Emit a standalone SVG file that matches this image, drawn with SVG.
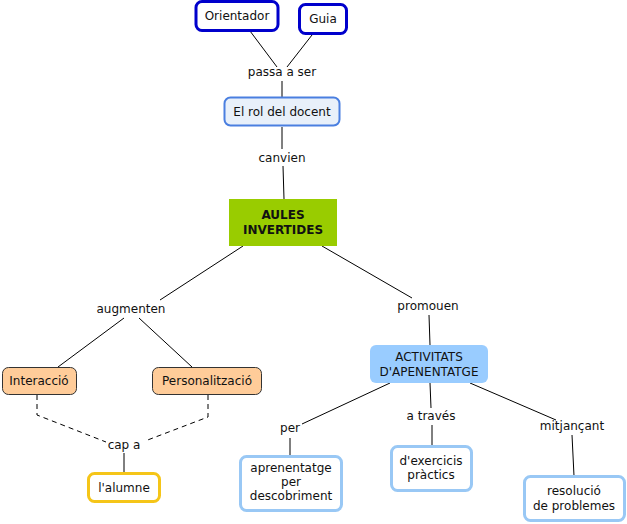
<svg xmlns="http://www.w3.org/2000/svg" width="627" height="524" viewBox="0 0 627 524">
<style>
text{font-family:"DejaVu Sans",Verdana,sans-serif;font-size:12px;fill:#111;text-anchor:middle}
.c{stroke:#000;stroke-width:1;fill:none}
.d{stroke:#000;stroke-width:1;fill:none;stroke-dasharray:5,4}
.top{fill:#fff;stroke:#0000cc;stroke-width:3}
.blue{fill:#fff;stroke:#99c8f5;stroke-width:3}
.peach{fill:#ffcc99;stroke:#333;stroke-width:1}
</style>
<rect width="627" height="524" fill="#fff"/>
<g id="connectors">
<line class="c" x1="250" y1="31" x2="277" y2="67"/>
<line class="c" x1="312" y1="35" x2="287" y2="67"/>
<line class="c" x1="282" y1="81" x2="282" y2="97"/>
<line class="c" x1="282" y1="127" x2="282" y2="149"/>
<line class="c" x1="283" y1="166" x2="284" y2="199"/>
<line class="c" x1="243" y1="246" x2="160" y2="300"/>
<line class="c" x1="322" y1="246" x2="412" y2="298"/>
<line class="c" x1="124" y1="318" x2="58" y2="367"/>
<line class="c" x1="139" y1="318" x2="192" y2="367"/>
<polyline class="d" points="37,395 37,415 106,442"/>
<polyline class="d" points="208,395 208,417 145,441"/>
<line class="c" x1="124" y1="453" x2="124" y2="473"/>
<line class="c" x1="429" y1="315" x2="430" y2="345"/>
<line class="c" x1="390" y1="383" x2="302" y2="424"/>
<line class="c" x1="430" y1="383" x2="431" y2="408"/>
<line class="c" x1="470" y1="383" x2="556" y2="420"/>
<line class="c" x1="290" y1="438" x2="290" y2="455"/>
<line class="c" x1="432" y1="425" x2="432" y2="446"/>
<line class="c" x1="572" y1="435" x2="574" y2="476"/>
<text x="282" y="76">passa a ser</text>
<text x="282" y="162">canvien</text>
<text x="131" y="313">augmenten</text>
<text x="428" y="310">promouen</text>
<text x="124" y="449">cap a</text>
<text x="290" y="432">per</text>
<text x="431" y="420">a través</text>
<text x="572" y="430">mitjançant</text>
</g>
<g id="orientador"><rect class="top" x="196" y="1.5" width="82" height="29" rx="6"/><text x="237" y="20">Orientador</text></g>
<g id="guia"><rect class="top" x="299.5" y="4.5" width="47" height="29" rx="6"/><text x="323" y="23">Guia</text></g>
<g id="rol"><rect x="224.5" y="97.5" width="115" height="28" rx="6" fill="#e8f0fa" stroke="#4a7fe0" stroke-width="2"/><text x="282" y="116">El rol del docent</text></g>
<g id="aules"><rect x="229" y="199" width="108" height="47" fill="#99cc00"/><text x="283" y="219" font-weight="bold" font-size="13">AULES</text><text x="283" y="234" font-weight="bold" font-size="13">INVERTIDES</text></g>
<g id="interaccio"><rect class="peach" x="2.5" y="367.5" width="74" height="27" rx="6"/><text x="39" y="385">Interacció</text></g>
<g id="personalitzacio"><rect class="peach" x="152.5" y="367.5" width="109" height="27" rx="6"/><text x="207" y="385">Personalització</text></g>
<g id="alumne"><rect x="88.5" y="473.5" width="71" height="28" rx="6" fill="#fff" stroke="#f5c518" stroke-width="3"/><text x="124" y="492">l'alumne</text></g>
<g id="activitats"><rect x="370" y="345" width="118" height="38" rx="6" fill="#99ccff"/><text x="429" y="361">ACTIVITATS</text><text x="429" y="376">D'APENENTATGE</text></g>
<g id="aprenentatge"><rect class="blue" x="240.5" y="456.5" width="101" height="54" rx="6"/><text x="291" y="472">aprenentatge</text><text x="291" y="486">per</text><text x="291" y="500">descobriment</text></g>
<g id="exercicis"><rect class="blue" x="391.5" y="446.5" width="80" height="44" rx="6"/><text x="431" y="465">d'exercicis</text><text x="431" y="479">pràctics</text></g>
<g id="resolucio"><rect class="blue" x="524.5" y="476.5" width="100" height="44" rx="6"/><text x="574" y="495">resolució</text><text x="574" y="510">de problemes</text></g>
</svg>
